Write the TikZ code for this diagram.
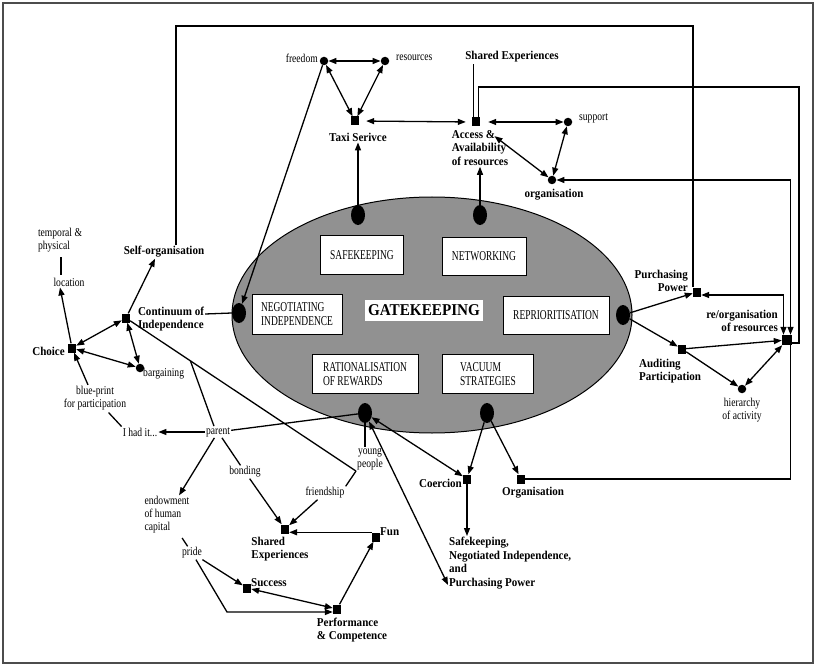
\documentclass[tikz,border=0pt]{standalone}
\usepackage{fontspec}
\setmainfont{Liberation Serif}
\newfontfamily\condreg[FakeStretch=0.8]{Liberation Serif}
\newfontfamily\condbold[FakeStretch=0.92]{Liberation Serif}
\newfontfamily\boxfont[FakeStretch=0.7]{Liberation Serif}
\usetikzlibrary{arrows.meta,shapes.geometric,calc}
\begin{document}
\begin{tikzpicture}[x=1pt,y=-1pt,
  >={Triangle[length=8pt,width=6pt]},
  lbl/.style={font=\condbold\bfseries\fontsize{12}{13.5}\selectfont, inner sep=1pt, align=left},
  sm/.style={font=\condreg\fontsize{12}{13}\selectfont, inner sep=1pt, align=center},
  box/.style={draw, fill=white, line width=1pt, font=\boxfont\fontsize{13.5}{14}\selectfont, inner sep=0pt},
  sq/.style={rectangle, fill=black, minimum width=8pt, minimum height=9pt, inner sep=0pt},
  dot/.style={circle, fill=black, minimum size=8.5pt, inner sep=0pt},
  bigdot/.style={ellipse, fill=black, minimum width=14pt, minimum height=20pt, inner sep=0pt},
  link/.style={line width=1.3pt},
  arr/.style={link, ->},
  darr/.style={link, <->},
]
\useasboundingbox (0,0) rectangle (817,666);
\draw[line width=1.3pt, black!70] (3,3) rectangle (813,663);

% central ellipse and its strategy boxes
\node[ellipse, draw, line width=1pt, fill=black!43, minimum width=400pt, minimum height=236pt, inner sep=0pt] (gk) at (432,315) {};
\node[box, minimum width=83pt, minimum height=39pt] (bSafe) at (362,255) {SAFEKEEPING};
\node[box, minimum width=84pt, minimum height=38pt] (bNet) at (484,256) {NETWORKING};
\node[box, minimum width=90pt, minimum height=40pt, align=left] (bNeg) at (297,314) {NEGOTIATING\\INDEPENDENCE};
\node[fill=white, font=\condbold\bfseries\fontsize{16.5}{18}\selectfont, minimum width=118pt, minimum height=21pt, inner sep=0pt] (bGate) at (424,310) {GATEKEEPING};
\node[box, minimum width=106pt, minimum height=38pt] (bRep) at (556,315) {REPRIORITISATION};
\node[box, minimum width=106pt, minimum height=39pt, align=left] (bRat) at (365,374) {RATIONALISATION\\OF REWARDS};
\node[box, minimum width=91pt, minimum height=39pt, align=left] (bVac) at (488,374) {VACUUM\\STRATEGIES};

\node[bigdot] (dSafe) at (358,215) {};
\node[bigdot] (dNet) at (480,215) {};
\node[bigdot] (dNeg) at (239,313) {};
\node[bigdot] (dRep) at (623,315) {};
\node[bigdot] (dRat) at (365,413) {};
\node[bigdot] (dVac) at (487,413) {};

% upper cluster
\node[dot] (freeD) at (324,61) {};
\node[sm, anchor=east] (freeT) at (319,58) {freedom};
\node[dot] (resD) at (385,61) {};
\node[sm, anchor=west] (resT) at (395,58) {resources};
\node[sq] (taxi) at (355,121) {};
\node[lbl] (taxiT) at (358,137) {Taxi Serivce};
\node[sq] (acc) at (476,122) {};
\node[lbl] (accT) at (480,148) {Access \&\\Availability\\of resources};
\node[lbl] (sharedTop) at (512,57) {Shared Experiences};
\node[dot] (supD) at (568,122) {};
\node[sm, anchor=west] (supT) at (578,118) {support};
\node[dot] (orgD) at (552,180) {};
\node[lbl] (orgT) at (554,195) {organisation};

% right cluster
\node[sq] (pp) at (697,292) {};
\node[lbl, align=right, anchor=east] (ppT) at (689,281) {Purchasing\\Power};
\node[sq] (aud) at (682,349) {};
\node[lbl] (audT) at (670,371) {Auditing\\Participation};
\node[sq, minimum width=10pt, minimum height=10pt] (reorg) at (787,340) {};
\node[lbl, align=right, anchor=east] (reorgT) at (779,321) {re/organisation\\of resources};
\node[dot] (hierD) at (742,389) {};
\node[sm] (hierT) at (742,410) {hierarchy\\of activity};

% left cluster
\node[sq] (cont) at (126,318) {};
\node[lbl] (contT) at (171,319) {Continuum of\\Independence};
\node[sq] (choice) at (72,348) {};
\node[lbl, anchor=east] (choiceT) at (66,351) {Choice};
\node[lbl] (selfT) at (164,252) {Self-organisation};
\node[sm] (locT) at (69,282) {location};
\node[sm, align=left] (tempT) at (60,240) {temporal \&\\physical};
\node[dot] (barD) at (140,368) {};
\node[sm, anchor=west] (barT) at (142,374) {bargaining};
\node[sm] (blueT) at (95,398) {blue-print\\for participation};
\node[sm] (hadT) at (140,432) {I had it...};
\node[sm] (parT) at (218,432) {parent};
\node[sm] (ypT) at (370,459) {young\\people};
\node[sm] (frT) at (325,493) {friendship};
\node[sm] (bondT) at (245,472) {bonding};
\node[sm, align=left] (endT) at (167,515) {endowment\\of human\\capital};
\node[sm] (prideT) at (192,553) {pride};

% lower cluster
\node[sq] (shSq) at (285,529) {};
\node[lbl] (shT) at (280,549) {Shared\\Experiences};
\node[sq] (funSq) at (376,537) {};
\node[lbl, anchor=west] (funT) at (379,532) {Fun};
\node[sq] (sucSq) at (247,588) {};
\node[lbl, anchor=west] (sucT) at (250,583) {Success};
\node[sq] (perfSq) at (337,609) {};
\node[lbl] (perfT) at (352,630) {Performance\\\& Competence};
\node[sq] (coer) at (467,479) {};
\node[lbl, anchor=east] (coerT) at (463,483) {Coercion};
\node[sq] (orgSq) at (521,479) {};
\node[lbl] (orgBT) at (533,493) {Organisation};
\node[lbl, anchor=west] (skT) at (448,563) {Safekeeping,\\Negotiated Independence,\\and\\Purchasing Power};

\coordinate (cS1) at (176,26);
\coordinate (cS2) at (693,26);
\coordinate (cA1) at (799,87);
\coordinate (pj) at ($(cont)!0.28!(ypT.south west)$);
\coordinate (pk) at (227,612);

% connectors: upper cluster
\draw[darr] (freeD) -- (resD);
\draw[darr] (freeD) -- (taxi);
\draw[darr] (resD) -- (taxi);
\draw[darr, shorten <=7pt, shorten >=6pt] (taxi.east) -- (acc.west);
\draw[arr] (dSafe) -- (taxiT);
\draw[arr] (dNet) -- (accT);
\draw[link] ([xshift=1.5pt]acc.north west) -- ([xshift=1.5pt]acc.north west |- sharedTop.south);
\draw[link] ([xshift=-1.5pt]acc.north east) |- (cA1) |- ([yshift=-3pt]reorg.east);
\draw[darr, shorten <=8pt] (acc) -- (supD);
\draw[darr, shorten <=18pt] (acc) -- (orgD);
\draw[darr] (supD) -- (orgD);
\draw[darr] ([xshift=3.5pt]reorg.north) |- (orgD.east);
\draw[link] (orgSq.east) -| ([xshift=3.5pt]reorg.south);
\draw[link] (selfT.north -| cS1) -- (cS1) -- (cS2) -- (cS2 |- pp.north);

% connectors: right cluster
\draw[darr] ([yshift=-3pt]pp.east) -| ([xshift=-3.5pt]reorg.north);
\draw[arr] (dRep) -- (pp);
\draw[arr] (dRep) -- (aud);
\draw[arr] (aud) -- (reorg);
\draw[arr] (aud) -- (hierD);
\draw[darr] (reorg) -- (hierD);

% connectors: left cluster
\draw[link] ([yshift=5pt]contT.east) -- (dNeg.west);
\draw[arr] (freeD) -- (dNeg);
\draw[darr] (choice) -- (cont);
\draw[arr] (cont) -- ([xshift=-9pt]selfT.south);
\draw[arr] (choice) -- ([xshift=-9pt]locT.south);
\draw[link, shorten <=2pt, shorten >=4pt] ([xshift=-8pt]locT.north) -- ([xshift=-8pt]locT.north |- tempT.south);
\draw[darr] (choice) -- (barD);
\draw[darr] (cont) -- (barD);
\draw[arr] ([xshift=-7pt]blueT.north) -- (choice);
\draw[link, shorten >=2pt] (hadT.north west) -- (blueT);
\draw[arr] (parT) -- (hadT);
\draw[link] (cont) -- (ypT.south west);
\draw[link] ([xshift=-4pt]parT.north) -- (pj);
\draw[link] (parT) -- (dRat);
\draw[link] (dRat.south) -- (dRat.south |- ypT.north);
\draw[link] (ypT.south west) -- (frT.north east);
\draw[arr] (frT) -- (shSq);
\draw[link] (parT) -- (bondT);
\draw[arr] (bondT) -- (shSq);
\draw[arr] (parT) -- (endT);
\draw[link, shorten <=4pt] (endT) -- (prideT);

% connectors: lower cluster
\draw[arr] (prideT) -- (sucSq);
\draw[arr] (prideT) -- (pk) -- (pk -| perfSq.west);
\draw[darr] (sucSq) -- (perfSq);
\draw[arr] (perfSq) -- (funSq);
\draw[arr] (funSq.north west) -- (funSq.north west -| shSq.east);
\draw[darr] (dRat) -- (coer);
\draw[arr] (dVac) -- (coer);
\draw[arr] (dVac) -- (orgSq);
\draw[arr] (coer) -- (coer |- skT.north);
\draw[darr] (dRat) -- ([yshift=5pt]skT.south west);
\end{tikzpicture}
\end{document}
